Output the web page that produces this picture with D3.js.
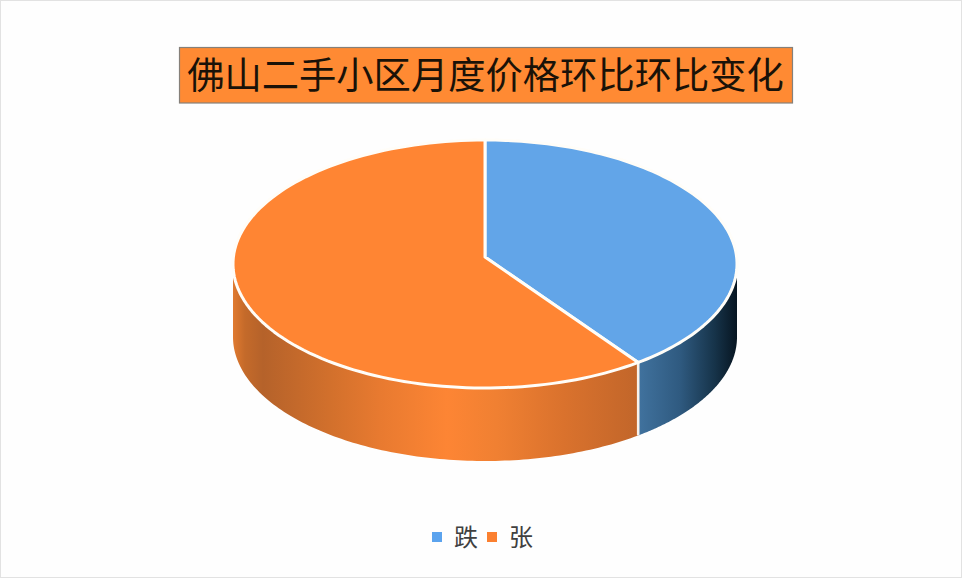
<!DOCTYPE html>
<html>
<head>
<meta charset="utf-8">
<script src="https://cdn.jsdelivr.net/npm/d3@7"></script>
<style>
  html, body { margin: 0; padding: 0; background: #fff; }
  svg { display: block; }
  text { font-family: "Noto Sans CJK SC", sans-serif; }
</style>
</head>
<body>
<svg id="chart" width="962" height="578"></svg>
<script>
const titleText = '佛山二手小区月度价格环比环比变化';
const categories = ['跌', '张'];
const values = [39.6, 60.4];
const topColors = ['#62a5e8', '#ff8533'];
const legendColors = ['#5ba3ee', '#fb8030'];

const WIDTH = 962;
const HEIGHT = 578;
const PIE = {cx: 485, cy: 264, rx: 252, ry: 124, depth: 73, apexY: 257};

const svg = d3.select('#chart');
const defs = svg.append('defs');

// horizontal shading of the walls, in page coordinates
const wallGradient = (id, stops) => {
  const gradient = defs.append('linearGradient')
    .attr('id', id)
    .attr('gradientUnits', 'userSpaceOnUse')
    .attr('x1', PIE.cx - PIE.rx).attr('x2', PIE.cx + PIE.rx)
    .attr('y1', 0).attr('y2', 0);
  stops.forEach(([x, color]) => {
    gradient.append('stop')
      .attr('offset', (x - (PIE.cx - PIE.rx)) / (2 * PIE.rx))
      .attr('stop-color', color);
  });
};
wallGradient('wall-blue', [[637, '#41739f'], [680, '#2f5a80'], [715, '#163349'], [737, '#071521']]);
wallGradient('wall-orange', [[233, '#e07a30'], [245, '#c46a2a'], [263, '#b5622a'], [330, '#d2702c'], [380, '#e87a30'], [447, '#fd8534'], [497, '#f08032'], [563, '#da722d'], [637, '#c2662a']]);

svg.append('rect')
  .attr('x', 0.5).attr('y', 0.5)
  .attr('width', WIDTH - 1).attr('height', HEIGHT - 1)
  .attr('fill', '#fefefe')
  .attr('stroke', '#e2e2e2');

// title
svg.append('rect')
  .attr('x', 179.5).attr('y', 47.5)
  .attr('width', 613).attr('height', 55.5)
  .attr('fill', '#ff8a33')
  .attr('stroke', '#85807a')
  .attr('stroke-width', 1.2);
svg.append('text')
  .attr('x', 485.5).attr('y', 89)
  .attr('text-anchor', 'middle')
  .attr('font-size', 37.3)
  .attr('fill', '#1a1208')
  .text(titleText);

// pie
const pie = d3.pie().sort(null).value((d) => d);
const slices = pie(values);

const rimPoint = (angle) => [
  PIE.cx + PIE.rx * Math.sin(angle),
  PIE.cy - PIE.ry * Math.cos(angle),
];

const rimPoints = (a0, a1) => {
  const n = 120;
  return d3.range(n + 1).map((i) => rimPoint(a0 + (a1 - a0) * i / n));
};

const wallPath = (a0, a1) => {
  const top = rimPoints(a0, a1);
  const bottom = top.map(([x, y]) => [x, y + PIE.depth]).reverse();
  return d3.line()(top.concat(bottom)) + 'Z';
};

// the slices meet a little above the centre of the ellipse
const topPath = (slice) => {
  const apex = [PIE.cx, PIE.apexY];
  return d3.line()([apex].concat(rimPoints(slice.startAngle, slice.endAngle))) + 'Z';
};

// only the front half of the rim is visible
const FRONT_START = Math.PI / 2;
const FRONT_END = Math.PI * 1.5;
const wallFills = ['url(#wall-blue)', 'url(#wall-orange)'];

const walls = svg.append('g');
slices.forEach((slice, i) => {
  const a0 = Math.max(slice.startAngle, FRONT_START);
  const a1 = Math.min(slice.endAngle, FRONT_END);
  if (a1 > a0) {
    walls.append('path').attr('d', wallPath(a0, a1)).attr('fill', wallFills[i]);
  }
});

// seam between the two walls
const seam = rimPoint(slices[0].endAngle);
walls.append('line')
  .attr('x1', seam[0]).attr('y1', seam[1])
  .attr('x2', seam[0]).attr('y2', seam[1] + PIE.depth)
  .attr('stroke', '#f8f2ec')
  .attr('stroke-width', 2.6);

// top face
svg.append('g')
  .selectAll('path')
  .data(slices)
  .join('path')
  .attr('d', topPath)
  .attr('fill', (d, i) => topColors[i])
  .attr('stroke', '#fffdf8')
  .attr('stroke-width', 3)
  .attr('stroke-linejoin', 'round');

// legend
const legendX = d3.scaleOrdinal().domain(categories).range([432, 487]);
const legend = svg.append('g')
  .selectAll('g')
  .data(categories)
  .join('g')
  .attr('transform', (d) => `translate(${legendX(d)},532)`);
legend.append('rect')
  .attr('width', 10).attr('height', 10)
  .attr('fill', (d, i) => legendColors[i]);
legend.append('text')
  .attr('x', 22).attr('y', 14)
  .attr('font-size', 24)
  .attr('fill', '#404040')
  .text((d) => d);
</script>
</body>
</html>
